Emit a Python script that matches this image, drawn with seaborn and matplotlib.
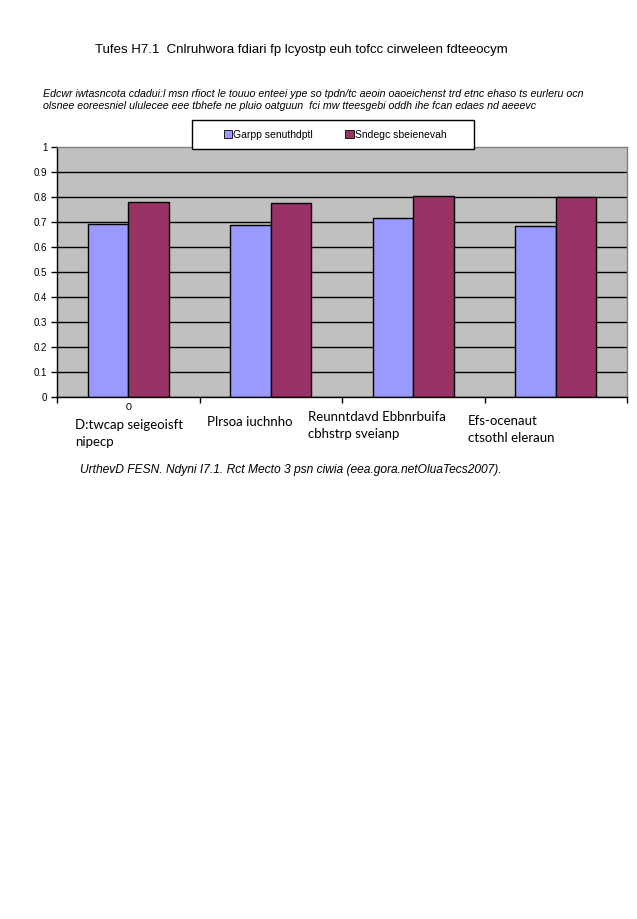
import numpy as np
import pandas as pd
import matplotlib
matplotlib.use("Agg")
import matplotlib.pyplot as plt
from matplotlib.patches import Rectangle
import seaborn as sns

categories = ["D:twcap seigeoisft\nnipecp", "Plrsoa iuchnho",
              "Reunntdavd Ebbnrbuifa\ncbhstrp sveianp", "Efs-ocenaut\nctsothl eleraun"]
series_names = ["Garpp senuthdptl", "Sndegc sbeienevah"]
series_a = [0.691, 0.687, 0.715, 0.683]
series_b = [0.781, 0.775, 0.803, 0.799]
y_ticks = [0, 0.1, 0.2, 0.3, 0.4, 0.5, 0.6, 0.7, 0.8, 0.9, 1]
y_tick_labels = ["0", "0.1", "0.2", "0.3", "0.4", "0.5", "0.6", "0.7", "0.8", "0.9", "1"]

title = "Tufes H7.1  Cnlruhwora fdiari fp lcyostp euh tofcc cirweleen fdteeocym"
subtitle = ("Edcwr iwtasncota cdadui:l msn rfioct le touuo enteei ype so tpdn/tc aeoin oaoeichenst trd etnc ehaso ts eurleru ocn\n"
            "olsnee eoreesniel ululecee eee tbhefe ne pluio oatguun  fci mw tteesgebi oddh ihe fcan edaes nd aeeevc")
footnote = "UrthevD FESN. Ndyni I7.1. Rct Mecto 3 psn ciwia (eea.gora.netOluaTecs2007)."

# layout of the odd left-aligned category labels (pixel positions in the original)
label_left_px = [75, 207, 308, 468]
label_top_px = [419, 416, 411, 415]

df = pd.DataFrame({
    "cat": categories * 2,
    "series": [series_names[0]] * 4 + [series_names[1]] * 4,
    "value": series_a + series_b,
})

W, H = 637, 919
fig = plt.figure(figsize=(W / 100, H / 100), dpi=100)
fig.patch.set_facecolor("white")
plt.rcParams["font.family"] = ["Liberation Sans", "DejaVu Sans"]

ax_l, ax_r, ax_t, ax_b = 57, 627, 147, 397
ax = fig.add_axes([ax_l / W, 1 - ax_b / H, (ax_r - ax_l) / W, (ax_b - ax_t) / H])
ax.set_facecolor("#C0C0C0")

sns.barplot(data=df, x="cat", y="value", hue="series", ax=ax,
            palette=["#9999FF", "#993366"], width=0.57, gap=0,
            edgecolor="black", linewidth=1, saturation=1, legend=True)

ax.set_ylim(0, 1)
ax.set_xlim(-0.5, 3.5)
ax.set_yticks(y_ticks)
ax.set_yticklabels(y_tick_labels, fontsize=7)
ax.yaxis.grid(True, color="black", linewidth=1)
ax.get_ygridlines()[-1].set_visible(False)
ax.set_axisbelow(True)
ax.tick_params(axis="y", length=4, width=1, color="black", pad=3)

ax.set_xticks([])
ax.set_xticks([-0.5, 0.5, 1.5, 2.5, 3.5], minor=True)
ax.tick_params(axis="x", which="minor", length=4, width=1, color="black")
ax.set_xlabel("")
ax.set_ylabel("")

for s in ["top", "right"]:
    ax.spines[s].set_color("#808080")
    ax.spines[s].set_linewidth(1)
for s in ["left", "bottom"]:
    ax.spines[s].set_color("black")
    ax.spines[s].set_linewidth(1)

# category labels
for i, lab in enumerate(categories):
    xa = (label_left_px[i] - ax_l) / (ax_r - ax_l)
    ya = -(label_top_px[i] - ax_b) / (ax_b - ax_t)
    ax.text(xa, ya, lab, transform=ax.transAxes, ha="left", va="top",
            fontsize=9.5, family=["Lato", "DejaVu Sans"], linespacing=1.55)
ax.text(0, -0.025, "0", transform=ax.get_xaxis_transform(), ha="center", va="top",
        fontsize=7.5, family=["Lato", "DejaVu Sans"])

# legend box
handles, labels = ax.get_legend_handles_labels()
ax.get_legend().remove()
fig.patches.append(Rectangle((192 / W, 1 - 149 / H), 282 / W, 29 / H,
                             transform=fig.transFigure, facecolor="white",
                             edgecolor="black", linewidth=1, zorder=5))
leg = fig.legend(handles, labels, loc="center",
                 bbox_to_anchor=(335 / W, 1 - 134.5 / H),
                 ncol=2, fontsize=7.5, frameon=False, borderaxespad=0,
                 handlelength=0.8, handleheight=0.8, handletextpad=0.1,
                 columnspacing=3.1, borderpad=0)
leg.set_zorder(6)
for h in leg.legend_handles:
    h.set_edgecolor("black")
    h.set_linewidth(0.6)

fig.text(95 / W, 1 - 50 / H, title, ha="left", va="center", fontsize=9.5)
fig.text(43 / W, 1 - 100 / H, subtitle, ha="left", va="center", fontsize=7.65,
         style="italic", linespacing=1.2)
fig.text(80 / W, 1 - 470 / H, footnote, ha="left", va="center", fontsize=8.65,
         style="italic")

fig.savefig("out.png", dpi=100, facecolor="white")
